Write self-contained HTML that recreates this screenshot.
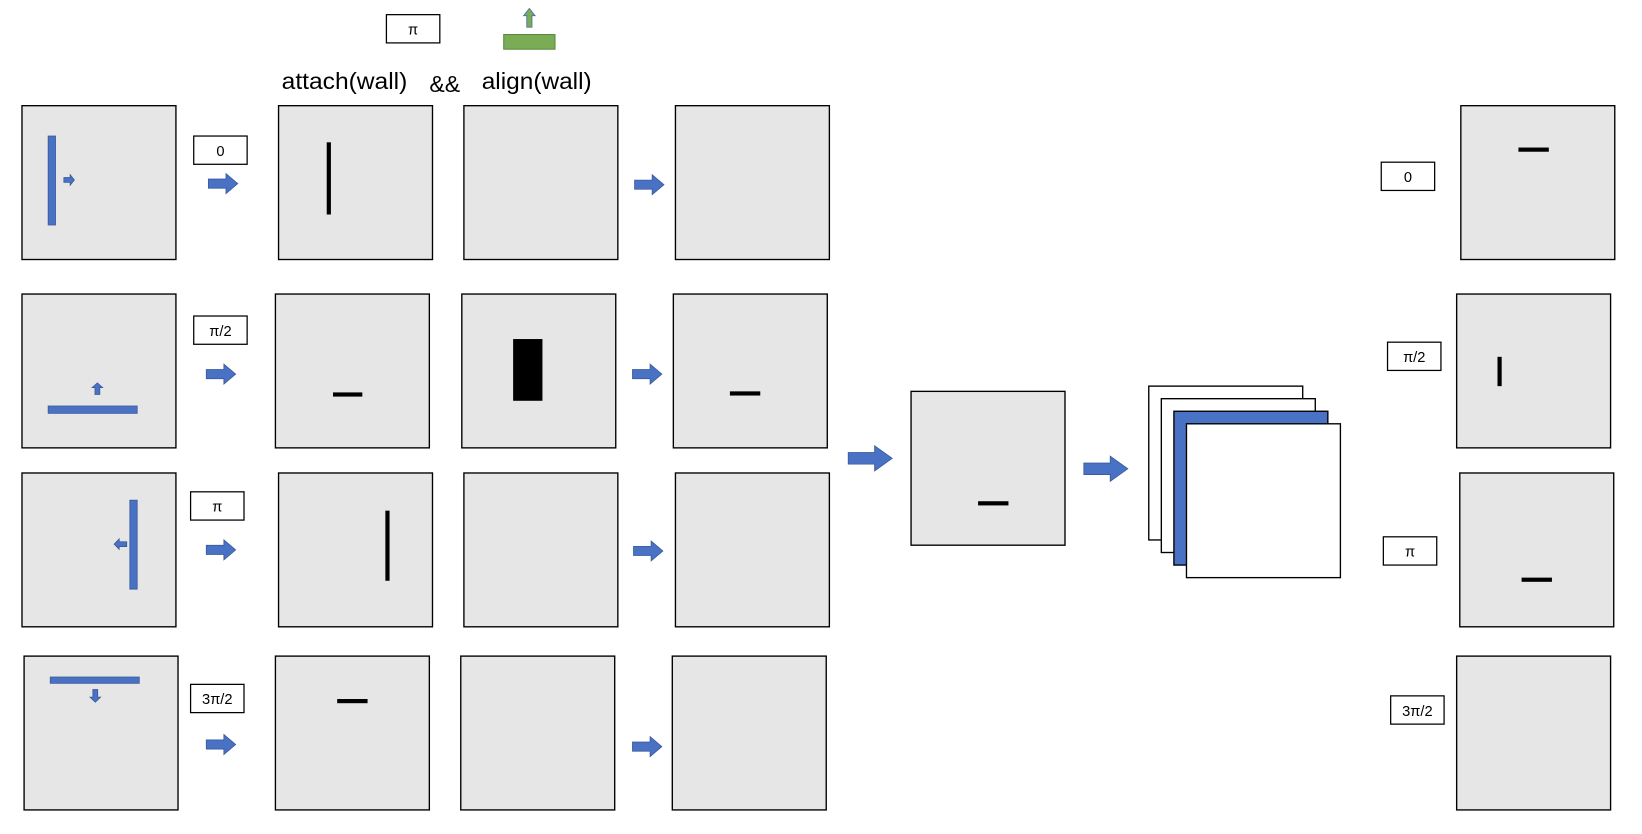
<!DOCTYPE html>
<html><head><meta charset="utf-8"><style>
html,body{margin:0;padding:0;background:#fff;width:1642px;height:834px;overflow:hidden}
svg{display:block}
text{font-family:"Liberation Sans",sans-serif;fill:#000}
</style></head><body>
<svg width="1642" height="834" viewBox="0 0 1568 797" preserveAspectRatio="none" xmlns="http://www.w3.org/2000/svg">
<g id="boxes" fill="#e6e6e6" stroke="#000" stroke-width="1.3"></g>
<g id="marks"></g>
<g id="labels"></g>
<g id="arrows"></g>
<text x="269" y="85" font-size="22" textLength="120" lengthAdjust="spacingAndGlyphs">attach(wall)</text>
<text x="410" y="88" font-size="22">&amp;&amp;</text>
<text x="460" y="85" font-size="22" textLength="105" lengthAdjust="spacingAndGlyphs">align(wall)</text>
<rect x="481" y="33" width="49" height="14" fill="#7aab55" stroke="#5a8a3a"/>
<path d="M503,26 L503,15 L500,15 L505.5,8 L511,15 L508,15 L508,26 Z" fill="#7aab55" stroke="#4a6fa5" stroke-width="0.8"/>
</svg>
<script>
const NS='http://www.w3.org/2000/svg';
function mk(tag,attrs,parent){const e=document.createElementNS(NS,tag);for(const k in attrs)e.setAttribute(k,attrs[k]);document.getElementById(parent).appendChild(e);return e;}
const boxes=[[21,101],[266,101],[443,101],[645,101],[21,281],[263,281],[441,281],[643,281],[21,452],[266,452],[443,452],[645,452],[23,627],[263,627],[440,627],[642,627],[870,374],[1395,101],[1391,281],[1394,452],[1391,627]];
boxes.forEach(b=>{const r=mk('rect',{x:b[0],y:b[1],width:147,height:147},'boxes');

});
[[1097,369,'#fff'],[1109,381,'#fff'],[1121,393,'#4a72c4'],[1133,405,'#fff']].forEach(s=>{const r=mk('rect',{x:s[0],y:s[1],width:147,height:147,fill:s[2],stroke:'#000','stroke-width':1.3},'boxes');

});
[[46,130,7,85],[46,388,85,7],[124,478,7,85],[48,647,85,6]].forEach(w=>{const r=mk('rect',{x:w[0],y:w[1],width:w[2],height:w[3],fill:'#4a72c4',stroke:'#3a5a9a','stroke-width':0.8},'marks');

});
[[312,136,4,69],[318,375,28,4],[490,324,28,59],[697,374,29,4],[368,488,4,67],[322,668,29,4],[934,479,29,4],[1450,141,29,4],[1430,341,4,28],[1453,552,29,4]].forEach(m=>{const r=mk('rect',{x:m[0],y:m[1],width:m[2],height:m[3],fill:'#000'},'marks');

});
function arrow(x,y,w,h,dir,name){let d;
 if(dir==='r'){const hx=x+w*0.6;d=`M${x},${y+h*0.27} L${hx},${y+h*0.27} L${hx},${y} L${x+w},${y+h/2} L${hx},${y+h} L${hx},${y+h*0.73} L${x},${y+h*0.73} Z`;}
 if(dir==='l'){const hx=x+w*0.4;d=`M${x+w},${y+h*0.27} L${hx},${y+h*0.27} L${hx},${y} L${x},${y+h/2} L${hx},${y+h} L${hx},${y+h*0.73} L${x+w},${y+h*0.73} Z`;}
 if(dir==='u'){const hy=y+h*0.4;d=`M${x+w*0.27},${y+h} L${x+w*0.27},${hy} L${x},${hy} L${x+w/2},${y} L${x+w},${hy} L${x+w*0.73},${hy} L${x+w*0.73},${y+h} Z`;}
 if(dir==='d'){const hy=y+h*0.6;d=`M${x+w*0.27},${y} L${x+w*0.27},${hy} L${x},${hy} L${x+w/2},${y+h} L${x+w},${hy} L${x+w*0.73},${hy} L${x+w*0.73},${y} Z`;}
 const p=mk('path',{d:d,fill:'#4a72c4',stroke:'#3a5a9a','stroke-width':0.8},'arrows');
 
 }
[[199,166],[197,348],[197,516],[197,702],[606,167],[604,348],[605,517],[604,704]].forEach(a=>arrow(a[0],a[1],28,19,'r','flow-arrow'));
arrow(810,426,42,24,'r','big-flow-arrow');
arrow(1035,436,42,24,'r','big-flow-arrow');
arrow(61,167,10,10,'r','direction-arrow');
arrow(88,366,10,11,'u','direction-arrow');
arrow(109,515,12,10,'l','direction-arrow');
arrow(86,659,10,12,'d','direction-arrow');
[[369,14,'π'],[185,130,'0'],[185,302,'π/2'],[182,470,'π'],[182,654,'3π/2'],[1319,155,'0'],[1325,327,'π/2'],[1321,513,'π'],[1328,665,'3π/2']].forEach(l=>{
 const r=mk('rect',{x:l[0],y:l[1],width:51,height:27,fill:'#fff',stroke:'#000','stroke-width':1.2},'labels');
 
 
 const t=mk('text',{x:l[0]+25.5,y:l[1]+19,'font-size':14,'text-anchor':'middle'},'labels');
 t.textContent=l[2];
 
 });
</script>
</body></html>
